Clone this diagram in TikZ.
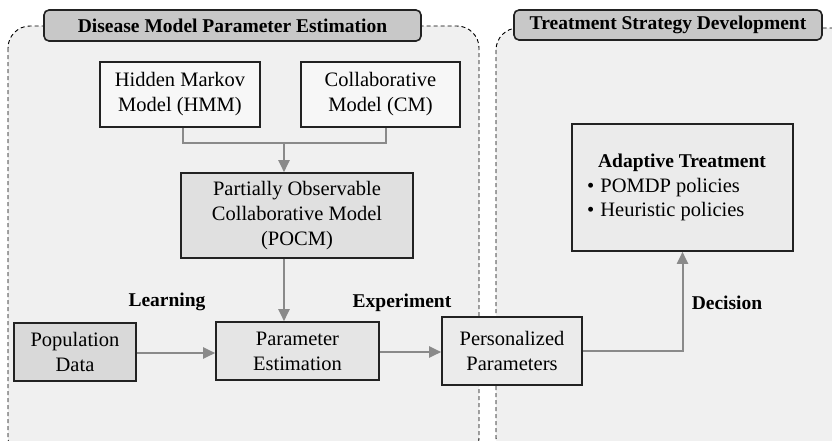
\documentclass[tikz,border=0pt]{standalone}
\usepackage{fontspec}
\setmainfont{Liberation Serif}
\usetikzlibrary{arrows.meta}
\definecolor{panelbg}{HTML}{F0F0F0}
\definecolor{titlebg}{HTML}{C8C8C8}
\definecolor{conn}{HTML}{8A8A8A}
\definecolor{edgec}{HTML}{222222}
\tikzset{
  panel/.style={draw=black, dashed, dash pattern=on 4pt off 3pt, line width=0.9pt, fill=panelbg, rounded corners=22pt},
  titlebox/.style={draw=edgec, line width=1.6pt, fill=titlebg, rounded corners=5pt, font=\fontsize{19.5}{23}\selectfont\bfseries, inner sep=0pt},
  blk/.style={draw=edgec, line width=1.6pt, align=center, font=\fontsize{20.5}{25}\selectfont, inner sep=0pt},
  lbl/.style={font=\fontsize{19.5}{23}\selectfont\bfseries, inner sep=0pt},
  bul/.style={anchor=west, font=\fontsize{20.5}{25}\selectfont, inner sep=0pt},
  conline/.style={draw=conn, line width=2pt},
  conarrow/.style={conline, -{Triangle[length=12pt,width=11pt]}},
}
\begin{document}
\begin{tikzpicture}[x=1pt,y=-1pt]
\useasboundingbox (0,0) rectangle (832,440);
\fill[white] (0,0) rectangle (832,440);
% panels
\path[panel] (8,26) rectangle (479,460);
\path[panel] (496,28) rectangle (860,460);
\node[titlebox, minimum width=377pt, minimum height=31pt] (t1) at (232.5,25.5) {Disease Model Parameter Estimation};
\node[titlebox, minimum width=308pt, minimum height=30pt] (t2) at (668,25) {Treatment Strategy Development};
% boxes
\node[blk, fill=white!97!black, minimum width=160pt, minimum height=65pt] (hmm) at (180,94.5) {Hidden Markov\\Model (HMM)};
\node[blk, fill=white!97!black, minimum width=159pt, minimum height=65pt] (cm) at (380.5,94.5) {Collaborative\\Model (CM)};
\node[blk, fill=white!88!black, minimum width=232pt, minimum height=85pt] (pocm) at (297,215.5) {Partially Observable\\Collaborative Model\\(POCM)};
\node[blk, fill=white!85!black, minimum width=122pt, minimum height=58pt] (pop) at (75,352) {Population\\Data};
\node[blk, fill=white!90!black, minimum width=163pt, minimum height=58pt] (pe) at (297.5,351) {Parameter\\Estimation};
\node[blk, fill=white!92!black, minimum width=140pt, minimum height=68pt] (pp) at (512,351) {Personalized\\Parameters};
\node[blk, fill=white!92!black, minimum width=221pt, minimum height=127pt] (at) at (682.5,187.5) {};
\node[lbl] (att) at (682,163) {Adaptive Treatment};
\node[bul] (b1) at (587,188) {•\hspace{6pt}POMDP policies};
\node[bul] (b2) at (587,212) {•\hspace{6pt}Heuristic policies};
% labels
\node[lbl] (learn) at (167,302) {Learning};
\node[lbl] (exp) at (402,303) {Experiment};
\node[lbl] (dec) at (727,303) {Decision};
% connectors
\coordinate (jn) at (284,143);
\draw[conline] (hmm.south -| 183,0) |- (jn) -| (cm.south -| 386,0);
\draw[conarrow] (jn) -- (pocm.north -| jn);
\draw[conarrow] (pocm.south -| jn) -- (pe.north -| jn);
\draw[conarrow] (pop.east |- 0,353) -- (pe.west |- 0,353);
\draw[conarrow] (pe.east |- 0,352) -- (pp.west |- 0,352);
\draw[conarrow] (pp.east |- 0,351) -| (at.south);
\end{tikzpicture}
\end{document}
